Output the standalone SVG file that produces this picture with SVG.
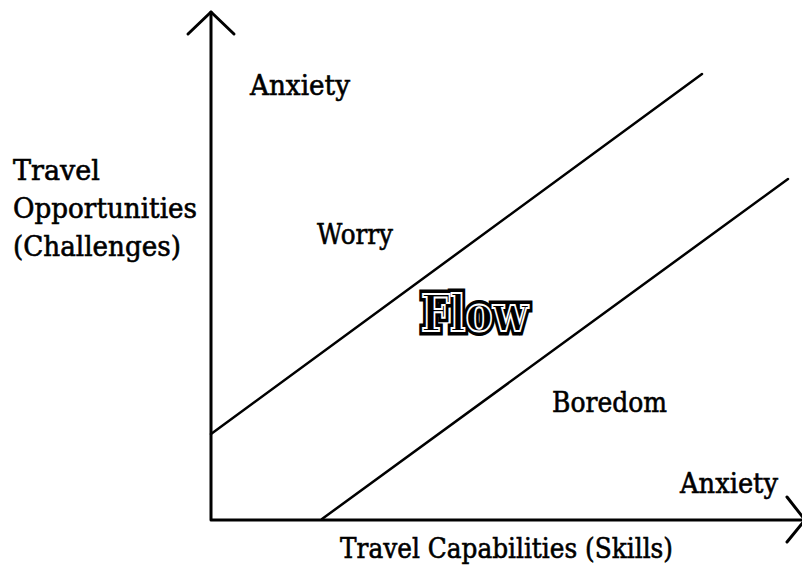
<svg xmlns="http://www.w3.org/2000/svg" width="802" height="568" viewBox="0 0 802 568">
<style>
.t{font-family:"DejaVu Serif","Liberation Serif",serif;font-size:27px;fill:#000;stroke:#000;stroke-width:0.6;}
.ax{stroke:#000;stroke-width:3;fill:none;stroke-linecap:round;stroke-linejoin:round;}
.dg{stroke:#000;stroke-width:2.5;fill:none;stroke-linecap:round;}
.fl{font-family:"DejaVu Serif","Liberation Serif",serif;font-weight:bold;font-size:50px;}
</style>
<rect width="802" height="568" fill="#fff"/>
<g id="connectors">
<path class="ax" d="M211,12 L211,520 L802,520"/>
<polyline class="ax" points="188,34 211,12 234,34"/>
<polyline class="ax" points="787,497 805,520 787,542"/>
<line class="dg" x1="211" y1="434" x2="702" y2="74"/>
<line class="dg" x1="322" y1="519" x2="788" y2="179"/>
</g>
<g id="y-axis-label">
<text class="t" x="13" y="180" textLength="87" lengthAdjust="spacingAndGlyphs">Travel</text>
<text class="t" x="13" y="218" textLength="184" lengthAdjust="spacingAndGlyphs">Opportunities</text>
<text class="t" x="13" y="256" textLength="168" lengthAdjust="spacingAndGlyphs">(Challenges)</text>
</g>
<g id="x-axis-label">
<text class="t" x="340" y="558" textLength="333" lengthAdjust="spacingAndGlyphs">Travel Capabilities (Skills)</text>
</g>
<g id="anxiety-top"><text class="t" x="250" y="95" textLength="100" lengthAdjust="spacingAndGlyphs">Anxiety</text></g>
<g id="worry"><text class="t" x="317" y="244" textLength="76" lengthAdjust="spacingAndGlyphs">Worry</text></g>
<g id="flow">
<text class="fl" x="421" y="331" textLength="107" lengthAdjust="spacingAndGlyphs" fill="#000" stroke="#000" stroke-width="9" stroke-linejoin="miter">Flow</text>
<text class="fl" x="421" y="331" textLength="107" lengthAdjust="spacingAndGlyphs" fill="none" stroke="#fff" stroke-width="2">Flow</text>
</g>
<g id="boredom"><text class="t" x="552" y="412" textLength="115" lengthAdjust="spacingAndGlyphs">Boredom</text></g>
<g id="anxiety-right"><text class="t" x="680" y="493" textLength="98" lengthAdjust="spacingAndGlyphs">Anxiety</text></g>
</svg>
